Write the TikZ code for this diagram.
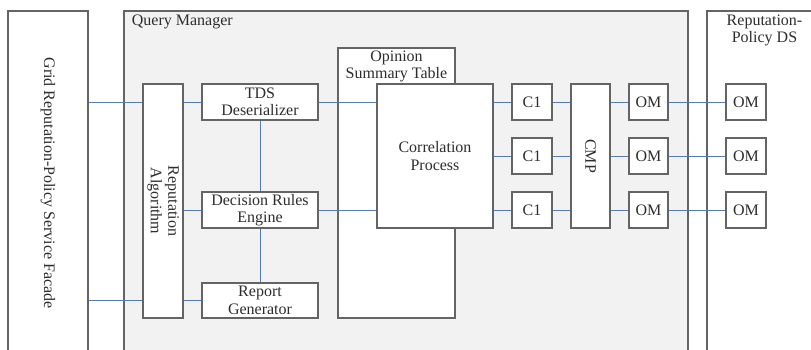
\documentclass[tikz,border=0pt]{standalone}
\usepackage{fontspec}
\setmainfont{Liberation Serif}

\definecolor{boxgray}{RGB}{100,100,100}
\definecolor{panelgray}{RGB}{242,242,242}
\definecolor{linkblue}{RGB}{84,124,178}
\definecolor{textgray}{RGB}{45,45,45}

\begin{document}
\begin{tikzpicture}[x=1pt,y=-1pt,
		every node/.style={font=\fontsize{16}{17.5}\selectfont,text=textgray},
		box/.style={draw=boxgray,fill=white,line width=1.2pt,inner sep=1pt,align=center},
		small/.style={box,minimum width=40pt,minimum height=36pt},
		link/.style={draw=linkblue,line width=0.9pt}]
		\useasboundingbox (0,0) rectangle (811,349);
		% outer panels
		\node [box,minimum width=80pt,minimum height=344pt] (facade) at (48,183) {\rotatebox{-90}{Grid Reputation-Policy Service Facade}};
		\node [box,fill=panelgray,minimum width=564pt,minimum height=344pt] (qm) at (406,183) {};
		\node [box,minimum width=115pt,minimum height=344pt] (ds) at (764.5,183) {};
		\node [anchor=base west] (qmtitle) at ([xshift=5pt,yshift=-15pt]qm.north west) {Query Manager};
		\node [anchor=north,align=center,inner sep=1pt] (dstitle) at ([yshift=-3pt]ds.north) {Reputation-\\Policy DS};
		% query manager blocks
		\node [box,minimum width=40pt,minimum height=234pt] (ra) at (163,201) {\rotatebox{-90}{\begin{tabular}{@{}c@{}}Reputation\\Algorithm\end{tabular}}};
		\node [box,minimum width=116pt,minimum height=36pt] (tds) at (260,102) {TDS\\Deserializer};
		\node [box,minimum width=116pt,minimum height=36pt] (dre) at (260,210) {Decision Rules\\Engine};
		\node [box,minimum width=116pt,minimum height=35pt] (rg) at (260,300.5) {Report\\Generator};
		\node [box,minimum width=117pt,minimum height=270pt] (ost) at (396.5,183) {};
		\node [anchor=north,align=center,inner sep=1pt] (osttitle) at ([yshift=-2pt]ost.north) {Opinion\\Summary Table};
		\node [box,minimum width=116pt,minimum height=144pt] (cp) at (435,156) {Correlation\\Process};
		\node [small] (c1a) at (532,102) {C1};
		\node [small] (c1b) at (532,156) {C1};
		\node [small] (c1c) at (532,210) {C1};
		\node [box,minimum width=39pt,minimum height=144pt] (cmp) at (590.5,156) {\rotatebox{-90}{CMP}};
		\node [small,minimum width=39pt] (oma) at (648.5,102) {OM};
		\node [small,minimum width=39pt] (omb) at (648.5,156) {OM};
		\node [small,minimum width=39pt] (omc) at (648.5,210) {OM};
		% data store
		\node [small] (dsoma) at (746,102) {OM};
		\node [small] (dsomb) at (746,156) {OM};
		\node [small] (dsomc) at (746,210) {OM};
		% connectors
		\draw [link] (facade.east |- tds) -- (ra.west |- tds);
		\draw [link] (facade.east |- rg) -- (ra.west |- rg);
		\draw [link] (ra.east |- tds) -- (tds.west);
		\draw [link] (ra.east |- dre) -- (dre.west);
		\draw [link] (ra.east |- rg) -- (rg.west);
		\draw [link] (tds.south) -- (dre.north);
		\draw [link] (dre.south) -- (rg.north);
		\draw [link] (tds.east) -- (cp.west |- tds);
		\draw [link] (dre.east) -- (cp.west |- dre);
		\draw [link] (cp.east |- c1a) -- (c1a.west);
		\draw [link] (cp.east |- c1b) -- (c1b.west);
		\draw [link] (cp.east |- c1c) -- (c1c.west);
		\draw [link] (c1a.east) -- (cmp.west |- c1a);
		\draw [link] (c1b.east) -- (cmp.west |- c1b);
		\draw [link] (c1c.east) -- (cmp.west |- c1c);
		\draw [link] (cmp.east |- oma) -- (oma.west);
		\draw [link] (cmp.east |- omb) -- (omb.west);
		\draw [link] (cmp.east |- omc) -- (omc.west);
		\draw [link] (oma.east) -- (dsoma.west);
		\draw [link] (omb.east) -- (dsomb.west);
		\draw [link] (omc.east) -- (dsomc.west);
	\end{tikzpicture}
\end{document}
